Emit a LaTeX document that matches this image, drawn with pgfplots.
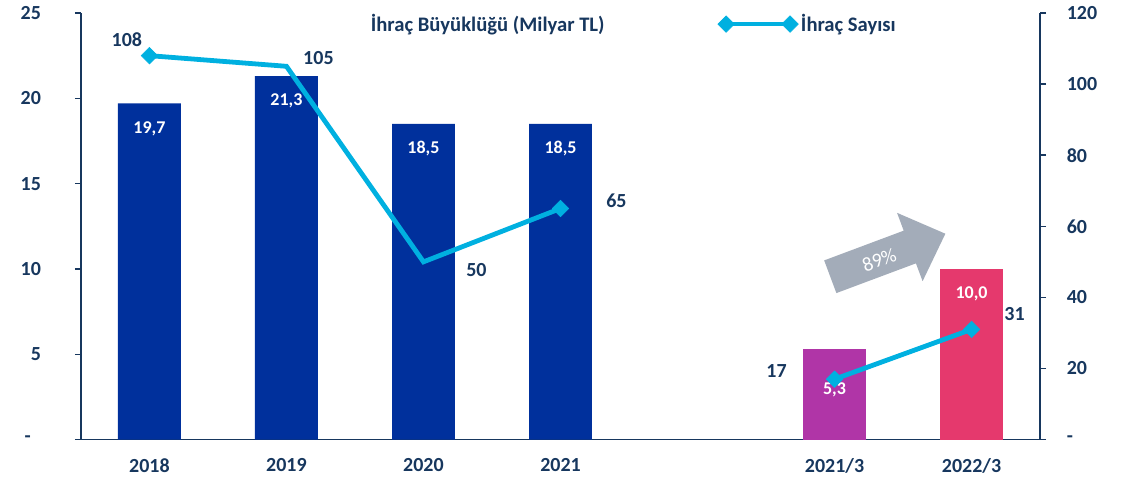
\documentclass[border=0pt]{standalone}
\usepackage{fontspec}
\setmainfont{Carlito}
\usepackage{pgfplots}
\pgfplotsset{compat=1.18}
\definecolor{navy}{HTML}{17375E}
\definecolor{barblue}{HTML}{00309C}
\definecolor{barpurple}{HTML}{B035A7}
\definecolor{barpink}{HTML}{E5396D}
\definecolor{linecyan}{HTML}{00B0E0}
\definecolor{arrowgray}{HTML}{A3ACB9}
\tikzset{cyanmark/.style={mark=square*, mark size=4.4pt,
    mark options={rotate=45, line width=0.4pt, fill=linecyan, draw=linecyan, solid}}}
\pgfplotstableread{
x y
0 19.7
1 21.3
2 18.5
3 18.5
}\bluebars
\pgfplotstableread{
x y
5 5.3
}\purplebar
\pgfplotstableread{
x y
6 10.0
}\pinkbar
\pgfplotstableread{
x y dx dy
0 108 -16.9 12
1 105 24 6
2 50 39.75 -6
3 65 42 6
}\lineA
\pgfplotstableread{
x y dx dy
5 17 -43.5 6
6 31 32.25 11.25
}\lineB
\pgfplotstableread{
x y
0 108
3 65
5 17
6 31
}\lineEnds
\begin{document}
\begin{tikzpicture}[font=\bfseries]
\path[use as bounding box] (-60.75pt,-30.75pt) rectangle (783.75pt,330pt);
\pgfplotsset{
  common/.style={
    at={(0,0)}, anchor=south west,
    scale only axis, width=720pt, height=320.25pt,
    xmin=-0.5, xmax=6.5,
    axis line style={navy, line width=1.1pt, -},
    tick align=outside, major tick length=4.5pt,
    every tick/.style={navy, line width=1.1pt},
    tick label style={text=navy, font=\fontsize{15}{18}\selectfont\bfseries},
    /pgf/number format/assume math mode=true,
  },
  linelabels/.style={
    point meta=y,
    visualization depends on={\thisrow{dx} \as \dx},
    visualization depends on={\thisrow{dy} \as \dy},
    nodes near coords={\pgfmathprintnumber[fixed,precision=0,assume math mode=true]{\pgfplotspointmeta}},
    every node near coord/.style={text=navy, font=\fontsize{15}{18}\selectfont\bfseries, anchor=center, xshift=\dx pt, yshift=\dy pt}
  }
}
\begin{axis}[common,
  ymin=0, ymax=25,
  axis x line*=bottom, axis y line*=left,
  xtick={0,1,2,3,5,6}, xticklabels={2018,2019,2020,2021,2021/3,2022/3},
  x tick style={draw=none},
  xticklabel style={yshift=-6pt},
  ytick={0,5,10,15,20,25}, yticklabels={-\hphantom{0},5,10,15,20,25},
  yticklabel style={anchor=east, xshift=-22pt},
  ybar, bar width=47.25pt, bar shift=0pt,
]
\addplot[fill=barblue, draw=none, nodes near coords={\pgfmathprintnumber[fixed,fixed zerofill,precision=1,use comma,assume math mode=true]{\pgfplotspointmeta}},
  every node near coord/.style={text=white, font=\fontsize{13.5}{15}\selectfont\bfseries, anchor=center, yshift=-18.75pt}] table {\bluebars};
\addplot[fill=barpurple, draw=none, nodes near coords={\pgfmathprintnumber[fixed,fixed zerofill,precision=1,use comma,assume math mode=true]{\pgfplotspointmeta}},
  every node near coord/.style={text=white, font=\fontsize{13.5}{15}\selectfont\bfseries, anchor=center, yshift=-30.75pt}] table {\purplebar};
\addplot[fill=barpink, draw=none, nodes near coords={\pgfmathprintnumber[fixed,fixed zerofill,precision=1,use comma,assume math mode=true]{\pgfplotspointmeta}},
  every node near coord/.style={text=white, font=\fontsize{13.5}{15}\selectfont\bfseries, anchor=center, yshift=-18.75pt}] table {\pinkbar};
\end{axis}
\begin{axis}[common,
  ymin=0, ymax=120,
  axis x line=none, axis y line*=right,
  ytick={0,20,...,120}, yticklabels={-,20,40,60,80,100,120},
  yticklabel style={anchor=west, xshift=12pt},
  legend style={at={(0.295,0.974)}, anchor=west, draw=none, fill=none,
    font=\fontsize{15.5}{18}\selectfont\bfseries, text=navy,
    /tikz/every even column/.append style={column sep=83pt}},
  legend columns=2,
  legend cell align=left,
]
\addlegendimage{empty legend}
\addlegendentry{İhraç Büyüklüğü (Milyar TL)}
\addplot[linecyan, line width=3.6pt, no marks, linelabels,
  legend image code/.code={\draw[cyanmark] plot coordinates {(0pt,0pt) (48pt,0pt)};}
] table {\lineA};
\addlegendentry{İhraç Sayısı}
\addplot[linecyan, line width=3.6pt, no marks, linelabels, forget plot] table {\lineB};
\addplot[only marks, cyanmark, forget plot] table {\lineEnds};
\end{axis}
\begin{scope}[shift={(562.5pt,122.25pt)}, rotate=20.5]
\fill[arrowgray] (0pt,-13.1pt) -- (63.75pt,-13.1pt) -- (63.75pt,-27.4pt) -- (92.25pt,0pt) -- (63.75pt,27.4pt) -- (63.75pt,13.1pt) -- (0pt,13.1pt) -- cycle;
\end{scope}
\node[rotate=20.5, text=white, font=\fontsize{15}{18}\selectfont\mdseries] at (599.25pt,135pt) {89\%};
\end{tikzpicture}
\end{document}
